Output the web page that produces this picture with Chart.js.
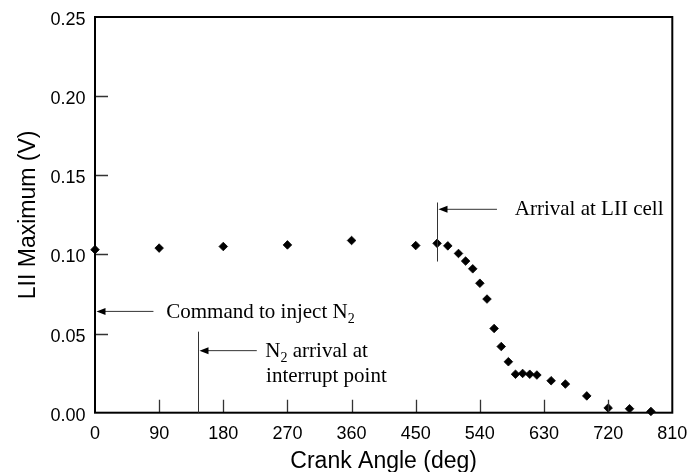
<!DOCTYPE html>
<html>
<head>
<meta charset="utf-8">
<script src="https://cdn.jsdelivr.net/npm/chart.js@4/dist/chart.umd.min.js"></script>
<style>
  html, body { margin: 0; padding: 0; background: #fff; }
  #wrap { width: 691px; height: 472px; }
</style>
</head>
<body>
<div id="wrap"><canvas id="c" width="691" height="472"></canvas></div>
<script>
// Peak laser-induced incandescence signal versus crank angle
const crankAngle = [0, 90, 180, 270, 360, 450, 480, 495, 510, 520, 530, 540, 550, 560, 570,
                    580, 590, 600, 610, 620, 640, 660, 690, 720, 750, 780];
const liiMax = [0.103, 0.104, 0.105, 0.106, 0.1088, 0.1056, 0.107, 0.1054, 0.1006, 0.0958, 0.0909,
                0.0818, 0.0718, 0.0532, 0.0418, 0.0322, 0.0243, 0.0248, 0.0243, 0.0238, 0.0202,
                0.0181, 0.0106, 0.003, 0.0025, 0.0008];
const xTicks = [0, 90, 180, 270, 360, 450, 540, 630, 720, 810];
const yTicks = [0, 0.05, 0.10, 0.15, 0.20, 0.25];

// Event markers (crank angle in deg)
const injectCommandAngle = 0;
const interruptArrivalAngle = 145;
const cellArrivalAngle = 480;

const SANS = '"Liberation Sans", Arial, Helvetica, sans-serif';
const SERIF = '"Liberation Serif", "Times New Roman", Times, serif';

function arrowLeft(ctx, xTip, xTail, y) {
  ctx.save();
  ctx.strokeStyle = '#333';
  ctx.lineWidth = 1;
  ctx.beginPath();
  ctx.moveTo(xTail, y);
  ctx.lineTo(xTip + 6, y);
  ctx.stroke();
  ctx.fillStyle = '#000';
  ctx.beginPath();
  ctx.moveTo(xTip, y);
  ctx.lineTo(xTip + 9, y - 3.5);
  ctx.lineTo(xTip + 9, y + 3.5);
  ctx.closePath();
  ctx.fill();
  ctx.restore();
}

function vLine(ctx, x, y1, y2) {
  ctx.save();
  ctx.strokeStyle = '#333';
  ctx.lineWidth = 1;
  ctx.beginPath();
  ctx.moveTo(x, y1);
  ctx.lineTo(x, y2);
  ctx.stroke();
  ctx.restore();
}

// serif label made of normal and subscript runs
function richText(ctx, parts, x, y) {
  let cx = x;
  for (const p of parts) {
    if (p.sub) {
      ctx.font = '14px ' + SERIF;
      ctx.fillText(p.t, cx, y + 5);
    } else {
      ctx.font = '21px ' + SERIF;
      ctx.fillText(p.t, cx, y);
    }
    cx += ctx.measureText(p.t).width;
  }
}

const framePlugin = {
  id: 'frameAndNotes',
  afterDatasetsDraw(chart) {
    const { ctx, chartArea: a, scales: { x, y } } = chart;
    ctx.save();
    // inward tick marks
    ctx.strokeStyle = '#333';
    ctx.lineWidth = 1.3;
    ctx.beginPath();
    for (const v of yTicks) {
      if (v <= y.min || v >= y.max) continue;
      const py = Math.round(y.getPixelForValue(v)) + 0.5;
      ctx.moveTo(a.left, py);
      ctx.lineTo(a.left + 13, py);
    }
    for (const v of xTicks) {
      if (v <= x.min || v >= x.max) continue;
      const px = Math.round(x.getPixelForValue(v)) + 0.5;
      ctx.moveTo(px, a.bottom);
      ctx.lineTo(px, a.bottom - 13);
    }
    ctx.stroke();
    // plot frame
    ctx.strokeStyle = '#000';
    ctx.lineWidth = 2;
    ctx.strokeRect(a.left, a.top, a.right - a.left, a.bottom - a.top);

    // annotations
    ctx.fillStyle = '#000';
    ctx.textBaseline = 'alphabetic';
    ctx.textAlign = 'left';

    // command to inject
    const yCmd = y.getPixelForValue(0.064);
    arrowLeft(ctx, x.getPixelForValue(injectCommandAngle) + 1.5, x.getPixelForValue(82), yCmd);
    richText(ctx, [{ t: 'Command to inject N' }, { t: '2', sub: true }],
             x.getPixelForValue(100), y.getPixelForValue(0.0597));

    // arrival at interrupt point
    const xInt = Math.round(x.getPixelForValue(interruptArrivalAngle)) + 0.5;
    vLine(ctx, xInt, y.getPixelForValue(0), y.getPixelForValue(0.0512));
    arrowLeft(ctx, xInt + 1, x.getPixelForValue(227), y.getPixelForValue(0.0392));
    richText(ctx, [{ t: 'N' }, { t: '2', sub: true }, { t: ' arrival at' }],
             x.getPixelForValue(239), y.getPixelForValue(0.0354));
    richText(ctx, [{ t: 'interrupt point' }],
             x.getPixelForValue(240), y.getPixelForValue(0.0196));

    // arrival at LII cell
    const xCell = Math.round(x.getPixelForValue(cellArrivalAngle)) + 0.5;
    vLine(ctx, xCell, y.getPixelForValue(0.0955), y.getPixelForValue(0.1328));
    arrowLeft(ctx, xCell + 1, x.getPixelForValue(564), y.getPixelForValue(0.1285));
    richText(ctx, [{ t: 'Arrival at LII cell' }],
             x.getPixelForValue(589), y.getPixelForValue(0.125));
    ctx.restore();
  }
};

new Chart(document.getElementById('c'), {
  type: 'scatter',
  data: {
    datasets: [{
      data: crankAngle.map((a, i) => ({ x: a, y: liiMax[i] })),
      pointStyle: 'rectRot',
      pointRadius: 4.3,
      backgroundColor: '#000',
      borderColor: '#000',
      borderWidth: 0.8,
      clip: false
    }]
  },
  options: {
    responsive: false,
    animation: false,
    events: [],
    layout: { padding: { left: 0, right: 18.7, top: 17, bottom: 0 } },
    plugins: { legend: { display: false }, tooltip: { enabled: false } },
    scales: {
      x: {
        type: 'linear',
        min: 0, max: 810,
        afterBuildTicks: s => { s.ticks = xTicks.map(v => ({ value: v })); },
        afterFit: s => { s.height = 59.3; s.paddingLeft = 0; s.paddingRight = 0; },
        grid: { display: false, drawTicks: false },
        border: { display: false },
        ticks: {
          padding: 10.5,
          color: '#000',
          font: { family: SANS, size: 18 },
          maxRotation: 0,
          callback: v => String(v)
        },
        title: {
          display: true,
          text: 'Crank Angle (deg)',
          color: '#000',
          font: { family: SANS, size: 23, lineHeight: 1 },
          padding: { top: 0, bottom: -1.5 }
        }
      },
      y: {
        type: 'linear',
        min: 0, max: 0.25,
        afterBuildTicks: s => { s.ticks = yTicks.map(v => ({ value: v })); },
        afterFit: s => { s.width = 95; s.paddingTop = 0; s.paddingBottom = 0; },
        grid: { display: false, drawTicks: false },
        border: { display: false },
        ticks: {
          padding: 9.5,
          labelOffset: 3,
          color: '#000',
          font: { family: SANS, size: 18 },
          callback: v => v.toFixed(2)
        },
        title: {
          display: true,
          text: 'LII Maximum (V)',
          color: '#000',
          font: { family: SANS, size: 23, lineHeight: 1 },
          padding: { top: 17, bottom: 0 }
        }
      }
    }
  },
  plugins: [framePlugin]
});
</script>
</body>
</html>
